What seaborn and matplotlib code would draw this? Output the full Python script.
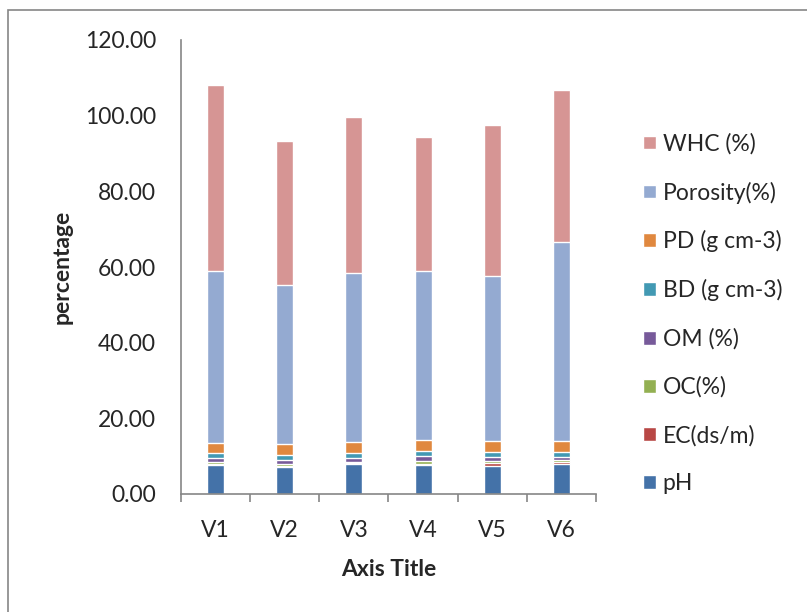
import numpy as np
import pandas as pd
import seaborn as sns
import matplotlib.pyplot as plt
from matplotlib.patches import Patch, Rectangle

# Values
varieties = ['V1', 'V2', 'V3', 'V4', 'V5', 'V6']
ph = [7.6, 7.1, 7.8, 7.7, 7.5, 8.0]
ec = [0.40, 0.40, 0.30, 0.35, 0.80, 0.50]
oc = [0.50, 0.55, 0.45, 0.70, 0.55, 0.50]
om = [0.90, 0.90, 0.85, 1.20, 0.90, 0.80]
bd = [1.35, 1.35, 1.35, 1.35, 1.40, 1.35]
pd_ = [2.65, 2.90, 2.95, 2.90, 2.85, 2.75]
porosity = [45.5, 42.1, 44.7, 44.7, 43.6, 52.6]
whc = [49.3, 38.0, 41.3, 35.4, 40.0, 40.3]

series = ['pH', 'EC(ds/m)', 'OC(%)', 'OM (%)', 'BD (g cm-3)', 'PD (g cm-3)',
          'Porosity(%)', 'WHC (%)']
colors = ['#4472A8', '#B84745', '#93B052', '#775A9A', '#4299B3', '#E0883F',
          '#94AAD1', '#D69594']

df = pd.DataFrame({'variety': varieties, 'pH': ph, 'EC(ds/m)': ec, 'OC(%)': oc,
                   'OM (%)': om, 'BD (g cm-3)': bd, 'PD (g cm-3)': pd_,
                   'Porosity(%)': porosity, 'WHC (%)': whc})
cum = df[series].cumsum(axis=1)

sns.set_style('white')
plt.rcParams['font.family'] = ['Lato', 'DejaVu Sans']
fs = 16.5

fig = plt.figure(figsize=(8.07, 6.12), dpi=100)
ax = fig.add_axes([181 / 807, (612 - 494) / 612, (596 - 181) / 807, (494 - 40) / 612])

# draw cumulative bars from top down so lower segments sit on top
for name, col in zip(series[::-1], colors[::-1]):
    sns.barplot(x=df['variety'], y=cum[name], color=col, width=0.245,
                edgecolor='white', linewidth=1, saturation=1, ax=ax)

ax.set_ylim(0, 120)
ax.set_yticks(np.arange(0, 121, 20))
ax.set_yticklabels([f'{v:.2f}' for v in np.arange(0, 121, 20)], fontsize=fs)
ax.tick_params(axis='y', length=0, pad=18)
ax.tick_params(axis='x', labelsize=fs, length=0, pad=19)
ax.set_xlim(-0.5, 5.5)
ax.set_xlabel('Axis Title', fontsize=fs, fontweight='bold')
ax.set_ylabel('percentage', fontsize=fs, fontweight='bold')
ax.xaxis.set_label_coords(0.5, -(569 - 494) / 454, transform=ax.transAxes)
ax.yaxis.set_label_coords(-(181 - 62) / 415, 0.5, transform=ax.transAxes)
ax.yaxis.label.set_va('center')
ax.xaxis.label.set_va('center')
for s in ['top', 'right']:
    ax.spines[s].set_visible(False)
for s in ['left', 'bottom']:
    ax.spines[s].set_color('#868686')
    ax.spines[s].set_linewidth(1.2)
# category separator ticks below x axis
ax.set_xticks(np.arange(-0.5, 6, 1), minor=True)
ax.tick_params(axis='x', which='minor', length=6, width=1.2, direction='out',
               bottom=True, color='#868686')

handles = [Patch(facecolor=c, label=s) for s, c in zip(series[::-1], colors[::-1])]
fig.legend(handles=handles, loc='upper left', bbox_to_anchor=(634 / 807, 1 - 124 / 612),
           frameon=False, fontsize=fs, handlelength=0.55, handleheight=0.55,
           labelspacing=1.17, handletextpad=0.3, borderaxespad=0)

# outer chart border (right and bottom edges fall outside the picture)
fig.patches.append(Rectangle((8 / 807, -0.1), 1.2, 1.1 - 10 / 612,
                             transform=fig.transFigure, fill=False,
                             edgecolor='#868686', linewidth=1.2))

fig.savefig('out.png', dpi=100)
